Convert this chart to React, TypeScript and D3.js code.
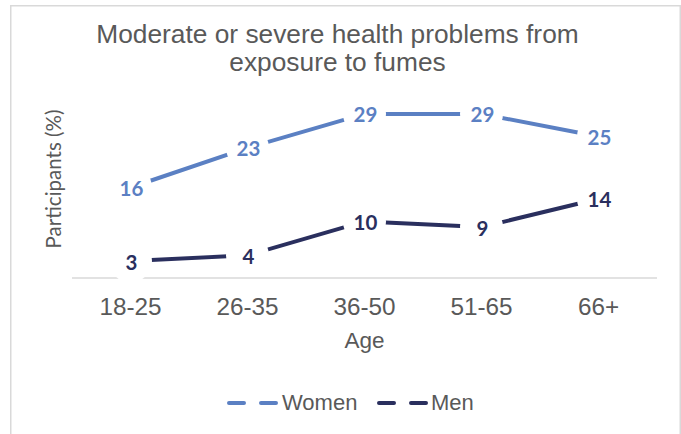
import React from "react";
import * as d3 from "d3";

// Age groups and the share of participants (%) reporting moderate or severe problems
const ageGroups = ["18-25", "26-35", "36-50", "51-65", "66+"];
const women = [16, 23, 29, 29, 25];
const men = [3, 4, 10, 9, 14];
const seriesNames = ["Women", "Men"];
const seriesColors = ["#5B80C3", "#2A2F5E"];

const W = 681;
const H = 434;
const plot = { left: 72, right: 657, top: 80, bottom: 278 };

const axisGray = "#D9D9D9";
const textGray = "#595959";
const arial = "'Liberation Sans', Arial, sans-serif";
const calibri = "Lato, 'Open Sans', sans-serif";

export default function App() {
  const x = d3
    .scaleBand<string>()
    .domain(ageGroups)
    .range([plot.left, plot.right])
    .padding(0);
  const y = d3.scaleLinear().domain([0, 35]).range([plot.bottom, plot.top]);
  const cx = (c: string) => (x(c) ?? 0) + x.bandwidth() / 2;

  const line = d3
    .line<number>()
    .x((_, i) => cx(ageGroups[i]))
    .y((v) => y(v));

  const series = [women, men];

  // legend layout: dashed swatch followed by its name
  const legend = [
    { x0: 229, x1: 276, tx: 282 },
    { x0: 379, x1: 426, tx: 431 },
  ];

  return (
    <svg
      width={W}
      height={H}
      viewBox={`0 0 ${W} ${H}`}
      style={{ position: "absolute", left: 0, top: 0, background: "#fff" }}
    >
      <rect x={0} y={0} width={W} height={H} fill="#fff" />
      <rect
        x={10.75}
        y={5.75}
        width={669.5}
        height={500}
        fill="#fff"
        stroke={axisGray}
        strokeWidth={1.5}
      />

      {/* title */}
      <text
        x={337.5}
        y={43}
        textAnchor="middle"
        fontFamily={arial}
        fontSize={26.3}
        fill={textGray}
      >
        <tspan x={337.5}>Moderate or severe health problems from</tspan>
        <tspan x={337.5} dy={27.5}>
          exposure to fumes
        </tspan>
      </text>

      {/* y axis title */}
      <text
        transform={`translate(61,${(plot.top + plot.bottom) / 2}) rotate(-90)`}
        textAnchor="middle"
        fontFamily={calibri}
        fontSize={20.5}
        fill={textGray}
      >
        Participants (%)
      </text>

      {/* category axis */}
      <line
        x1={plot.left}
        x2={plot.right}
        y1={y(0)}
        y2={y(0)}
        stroke={axisGray}
        strokeWidth={1.5}
      />
      {ageGroups.map((g) => (
        <text
          key={g}
          x={cx(g)}
          y={315}
          textAnchor="middle"
          fontFamily={arial}
          fontSize={24.3}
          fill={textGray}
        >
          {g}
        </text>
      ))}
      <text
        x={(plot.left + plot.right) / 2}
        y={348}
        textAnchor="middle"
        fontFamily={arial}
        fontSize={22.5}
        fill={textGray}
      >
        Age
      </text>

      {/* lines */}
      {series.map((vals, s) => (
        <path
          key={seriesNames[s]}
          d={line(vals) ?? ""}
          fill="none"
          stroke={seriesColors[s]}
          strokeWidth={4}
          strokeLinecap="round"
          strokeLinejoin="round"
        />
      ))}

      {/* value labels on white discs */}
      {series.map((vals, s) =>
        vals.map((v, i) => (
          <g key={`${s}-${i}`}>
            <circle cx={cx(ageGroups[i])} cy={y(v)} r={21.5} fill="#fff" />
            <text
              x={cx(ageGroups[i]) + 1}
              y={y(v) + 8.5}
              textAnchor="middle"
              fontFamily={calibri}
              fontWeight={700}
              fontSize={20.5}
              fill={seriesColors[s]}
            >
              {v}
            </text>
          </g>
        ))
      )}

      {/* legend */}
      {seriesNames.map((name, s) => (
        <g key={name}>
          <line
            x1={legend[s].x0}
            x2={legend[s].x1}
            y1={403}
            y2={403}
            stroke={seriesColors[s]}
            strokeWidth={4}
            strokeLinecap="round"
            strokeDasharray="15 17"
          />
          <text
            x={legend[s].tx}
            y={410}
            fontFamily={arial}
            fontSize={22}
            fill={textGray}
          >
            {name}
          </text>
        </g>
      ))}
    </svg>
  );
}
